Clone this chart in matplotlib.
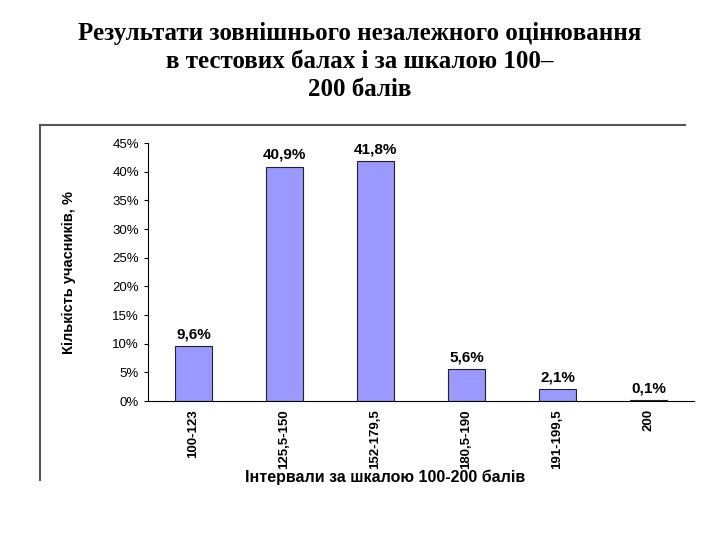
import matplotlib
matplotlib.use("Agg")
import matplotlib.pyplot as plt
from matplotlib.lines import Line2D

categories = ["100-123", "125,5-150", "152-179,5", "180,5-190", "191-199,5", "200"]
values = [9.6, 40.9, 41.8, 5.6, 2.1, 0.1]
value_labels = ["9,6%", "40,9%", "41,8%", "5,6%", "2,1%", "0,1%"]
yticks = [0, 5, 10, 15, 20, 25, 30, 35, 40, 45]

fig = plt.figure(figsize=(7.2, 5.4), dpi=100)
fig.text(0.5, 0.96, "Результати зовнішнього незалежного оцінювання\nв тестових балах і за шкалою 100–\n200 балів",
         ha="center", va="top", family="Liberation Serif", fontsize=18, fontweight="bold", linespacing=1.3)

fig.add_artist(Line2D([40/720, 40/720], [1-480/540, 1-125/540], color="#555555", lw=1.5))
fig.add_artist(Line2D([40/720, 685/720], [1-125/540, 1-125/540], color="#555555", lw=1.5))

ax = fig.add_axes([148/720, 139/540, 546/720, 258/540])
x = range(len(categories))
ax.bar(x, values, width=0.4, color="#9999ff", edgecolor="#222222", linewidth=0.8)
for i, (v, l) in enumerate(zip(values, value_labels)):
    ax.text(i, v + 0.8, l, ha="center", va="bottom", family="Liberation Sans", fontsize=11, fontweight="bold")
ax.set_xlim(-0.5, 5.5)
ax.set_ylim(0, 45)
ax.set_yticks(yticks)
ax.set_yticklabels([f"{t}%" for t in yticks], family="Liberation Sans", fontsize=9.5)
ax.set_xticks(list(x))
ax.set_xticklabels(categories, rotation=90, family="Liberation Sans", fontsize=9.5, fontweight="bold")
ax.tick_params(axis="x", length=0, pad=6)
ax.tick_params(axis="y", length=3)
for s in ["top", "right"]:
    ax.spines[s].set_visible(False)
ax.set_ylabel("Кількість учасників, %", family="Liberation Sans", fontsize=10.5, fontweight="bold", labelpad=26)
ax.set_xlabel("Інтервали за шкалою 100-200 балів", family="Liberation Sans", fontsize=11.5, fontweight="bold", labelpad=0)
ax.xaxis.set_label_coords((385-148)/546, -(470-401)/258)
fig.savefig("out.png", dpi=100)
